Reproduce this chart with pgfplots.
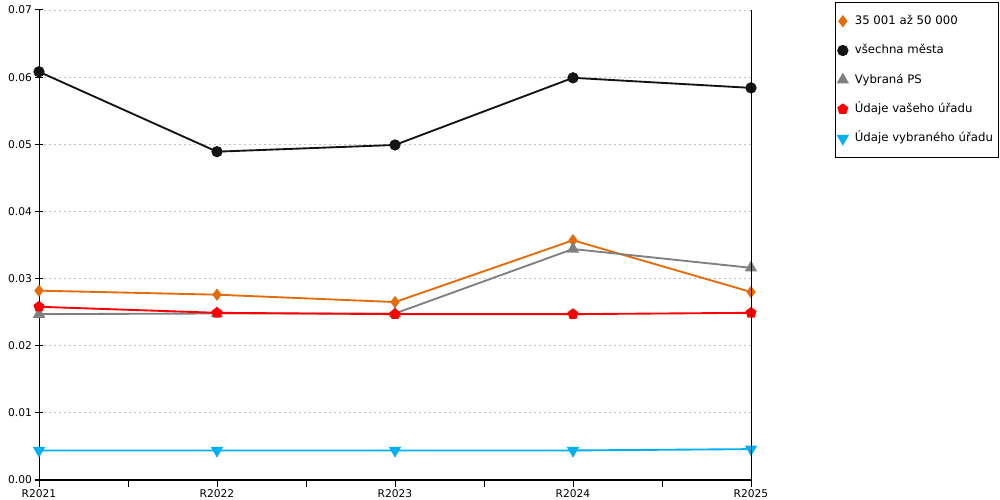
\documentclass[border=0pt]{standalone}
\usepackage{pgfplots}
\pgfplotsset{compat=1.18}
\usepackage{fontspec}
\setmainfont{DejaVu Sans}
\definecolor{cOrange}{RGB}{228,108,10}
\definecolor{cBlack}{RGB}{20,20,20}
\definecolor{cGray}{RGB}{128,128,128}
\definecolor{cRed}{RGB}{255,0,0}
\definecolor{cBlue}{RGB}{0,176,240}
\definecolor{cGrid}{RGB}{192,192,192}
\begin{document}
\begin{tikzpicture}
\useasboundingbox (-29.25pt,-15pt) rectangle (720.75pt,360pt);
\begin{axis}[
  at={(0,0)}, anchor=origin,
  scale only axis, width=534pt, height=352.5pt,
  xmin=0, xmax=4, ymin=0, ymax=0.07,
  clip=false,
  axis x line*=bottom, axis y line*=left,
  axis line style={black, line width=0.75pt},
  font=\fontsize{8}{9.6}\selectfont,
  xtick={0,1,2,3,4},
  xticklabels={R2021,R2022,R2023,R2024,R2025},
  minor xtick={0.5,1.5,2.5,3.5},
  x tick style={black, line width=0.75pt},
  xtick align=outside,
  major tick length=5.5pt, minor tick length=5.5pt,
  x tick label style={yshift=2pt},
  ytick={0,0.01,...,0.07},
  y tick style={black, line width=0.75pt},
  ytick align=center,
  y tick label style={/pgf/number format/fixed, /pgf/number format/fixed zerofill, /pgf/number format/precision=2, xshift=1pt},
  /pgf/number format/assume math mode=true,
  scaled y ticks=false,
  ymajorgrids,
  major grid style={cGrid, dash pattern=on 1.5pt off 2.25pt, line width=0.6pt},
  every axis plot/.append style={line width=1.4pt},
  legend image code/.code={\draw[#1] plot[only marks] coordinates {(0.1cm,0cm)};},
  legend style={at={(1.118,1.017)}, anchor=north west, draw=black, line width=0.75pt,
    font=\fontsize{8.8}{10.5}\selectfont, row sep=9pt, inner xsep=2pt, inner ysep=7.5pt,
    nodes={text height=7pt, text depth=2pt},
    cells={anchor=west},
    /tikz/every odd column/.append style={column sep=3.5pt},
    /tikz/every even column/.append style={column sep=0pt}},
  legend cell align=left,
  after end axis/.code={\draw[black, line width=0.75pt] (rel axis cs:1,0) ++(0,-5.5pt) -- (rel axis cs:1,1);},
]
\addplot[color=cOrange, mark=diamond*, mark size=3.5pt, mark options={solid}] coordinates {(0,0.0282)(1,0.0276)(2,0.0265)(3,0.0357)(4,0.0280)};
\addlegendentry{35 001 až 50 000}
\addplot[color=cBlack, mark=*, mark size=3.5pt] coordinates {(0,0.0608)(1,0.0489)(2,0.0499)(3,0.0599)(4,0.0584)};
\addlegendentry{všechna města}
\addplot[color=cGray, mark=triangle*, mark size=4pt] coordinates {(0,0.0247)(1,0.0248)(2,0.0248)(3,0.0344)(4,0.0316)};
\addlegendentry{Vybraná PS}
\addplot[color=cRed, mark=pentagon*, mark size=3.5pt] coordinates {(0,0.0258)(1,0.0249)(2,0.0247)(3,0.0247)(4,0.0249)};
\addlegendentry{Údaje vašeho úřadu}
\addplot[color=cBlue, mark=triangle*, mark size=4pt, mark options={rotate=180}] coordinates {(0,0.0044)(1,0.0044)(2,0.0044)(3,0.0044)(4,0.0046)};
\addlegendentry{Údaje vybraného úřadu}
\end{axis}
\end{tikzpicture}
\end{document}
